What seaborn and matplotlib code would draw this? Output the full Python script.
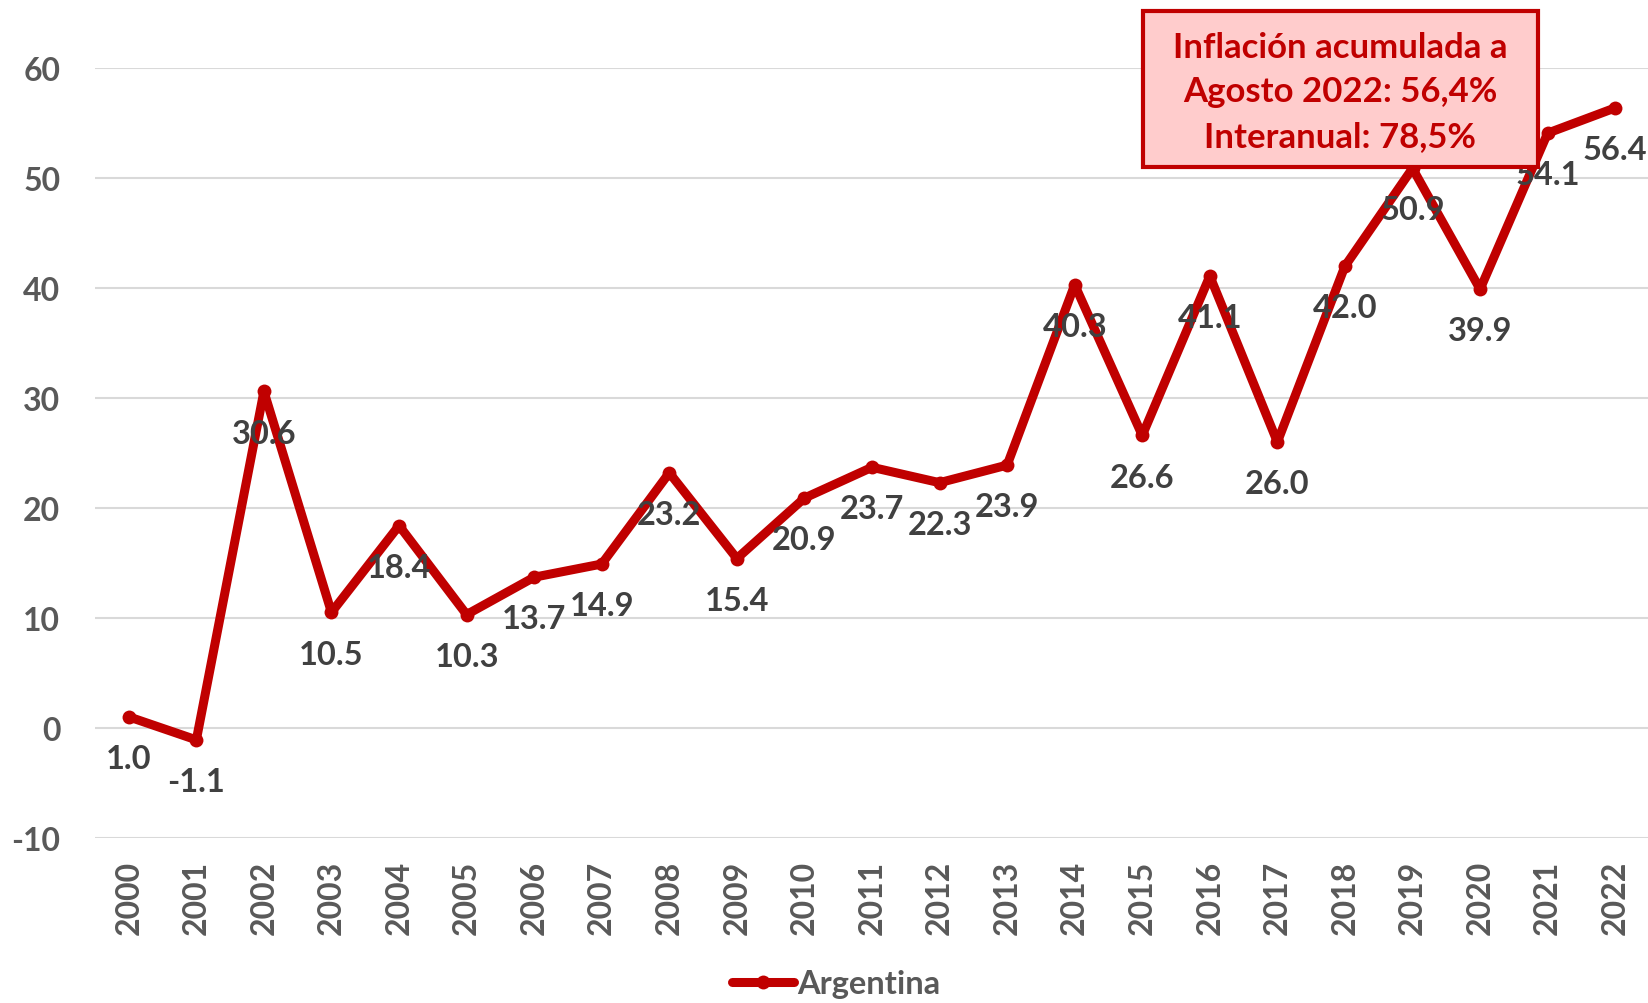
import matplotlib
matplotlib.use("Agg")
import matplotlib.pyplot as plt
import seaborn as sns
import pandas as pd
from matplotlib.patches import Rectangle

years = list(range(2000, 2023))
inflation = [1.0, -1.1, 30.6, 10.5, 18.4, 10.3, 13.7, 14.9, 23.2, 15.4, 20.9,
             23.7, 22.3, 23.9, 40.3, 26.6, 41.1, 26.0, 42.0, 50.9, 39.9, 54.1, 56.4]
y_ticks = [-10, 0, 10, 20, 30, 40, 50, 60]
year_labels = [str(y) for y in years]
series_name = "Argentina"
box_lines = ["Inflación acumulada a", "Agosto 2022: 56,4%", "Interanual: 78,5%"]

RED = "#C00000"
LABEL = "#404040"
TICK = "#595959"

sns.set_theme(style="white")
plt.rcParams['font.family'] = ['Lato', 'DejaVu Sans']
plt.rcParams['axes.unicode_minus'] = False

W, H = 1649, 1004
df = pd.DataFrame({"year": years, "value": inflation})
fig = plt.figure(figsize=(W / 100, H / 100), dpi=100)
ax = fig.add_axes([95 / W, (H - 838.7) / H, 1 - 95 / W, (838.7 - 69.3) / H])

sns.lineplot(data=df, x="year", y="value", ax=ax, color=RED, linewidth=6.5,
             marker="o", markersize=10, markeredgewidth=0, label=series_name,
             zorder=3)

ax.set_xlim(years[0] - 0.5, years[-1] + 0.5)
ax.set_ylim(-10, 60)
ax.set_yticks(y_ticks)
ax.set_xticks(years)
ax.set_xticklabels(year_labels, rotation=90)
ax.grid(axis='y', color='#D9D9D9', linewidth=1.5, zorder=0)
ax.grid(axis='x', visible=False)
for s in ax.spines.values():
    s.set_visible(False)
ax.set_xlabel("")
ax.set_ylabel("")
ax.tick_params(axis='x', length=0, pad=16, labelsize=23, labelcolor=TICK)
ax.tick_params(axis='y', length=0, pad=25, labelsize=23, labelcolor=TICK)
for lab in ax.get_xticklabels() + ax.get_yticklabels():
    lab.set_fontweight('bold')

for x, v in zip(years, inflation):
    ax.annotate(f"{v:.1f}", (x, v), xytext=(0, -30), textcoords="offset points",
                ha="center", va="center", fontsize=23.5, fontweight="bold",
                color=LABEL, zorder=5)

sns.move_legend(ax, "center", bbox_to_anchor=(0.477, -0.19), frameon=False,
                fontsize=23.5, handlelength=1.9, handletextpad=0.1,
                borderpad=0, borderaxespad=0)
for t in ax.get_legend().get_texts():
    t.set_fontweight('bold')
    t.set_color(TICK)

rect = Rectangle((1143 / W, (H - 168) / H), 395 / W, 156 / H,
                 transform=fig.transFigure, facecolor="#FFCCCC",
                 edgecolor=RED, linewidth=3, zorder=10)
fig.add_artist(rect)
for line, yb in zip(box_lines, [58, 102, 147]):
    fig.text(1340.5 / W, (H - yb) / H, line, ha='center', va='baseline',
             fontsize=25, fontweight='bold', color=RED, zorder=11)

fig.savefig("out.png", dpi=100)
